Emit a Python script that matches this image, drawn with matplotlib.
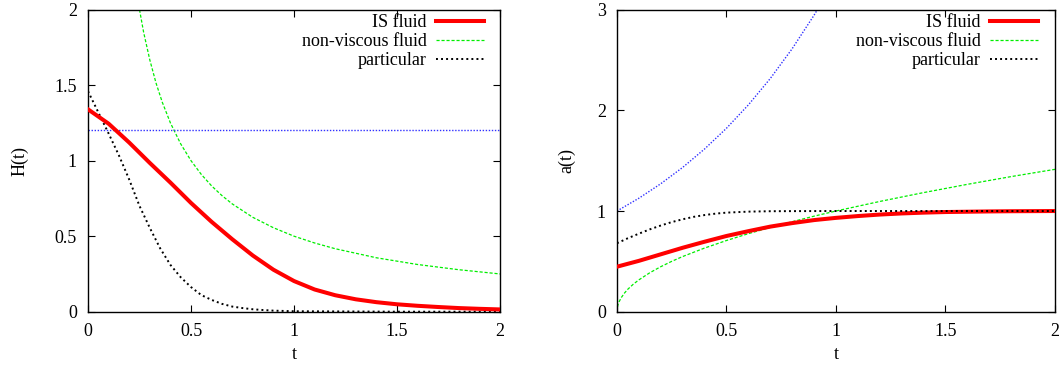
from matplotlib import pyplot as plt
import numpy as np

plt.rcParams['font.family'] = ['Liberation Serif', 'DejaVu Serif']
plt.rcParams['font.size'] = 13

# ---- left panel: H(t) ----
t_is = [0.0, 0.1, 0.2, 0.3, 0.4, 0.5, 0.6, 0.7, 0.8, 0.9, 1.0,
        1.1, 1.2, 1.3, 1.4, 1.5, 1.6, 1.7, 1.8, 1.9, 2.0]
H_is = [1.34, 1.245, 1.12, 0.985, 0.855, 0.72, 0.595, 0.48, 0.372, 0.278, 0.203,
        0.147, 0.109, 0.082, 0.063, 0.049, 0.039, 0.031, 0.024, 0.019, 0.015]

t_nv = [0.25, 0.27, 0.3, 0.33, 0.36, 0.4, 0.45, 0.5, 0.55, 0.6, 0.65, 0.7, 0.8,
        0.9, 1.0, 1.1, 1.2, 1.4, 1.6, 1.8, 2.0]
H_nv = [2.0, 1.85, 1.667, 1.515, 1.389, 1.25, 1.111, 1.0, 0.909, 0.833, 0.769,
        0.714, 0.625, 0.556, 0.5, 0.455, 0.417, 0.357, 0.3125, 0.278, 0.25]

t_p = [0.0, 0.05, 0.1, 0.15, 0.2, 0.25, 0.3, 0.35, 0.4, 0.45, 0.5, 0.55, 0.6,
       0.65, 0.7, 0.75, 0.8, 0.85, 0.9, 0.95, 1.0, 1.5, 2.0]
H_p = [1.46, 1.32, 1.18, 1.035, 0.875, 0.70, 0.555, 0.42, 0.31, 0.228, 0.163,
       0.11, 0.078, 0.052, 0.034, 0.024, 0.016, 0.011, 0.007, 0.005, 0.003, 0.0, 0.0]

t_ds = [0.0, 2.0]
H_ds = [1.2, 1.2]

# ---- right panel: a(t) ----
a_is = [0.447, 0.505, 0.57, 0.635, 0.695, 0.752, 0.80, 0.845, 0.88, 0.91, 0.932,
        0.95, 0.965, 0.976, 0.984, 0.99, 0.993, 0.996, 0.998, 0.999, 1.0]

t_anv = [0.0, 0.002, 0.005, 0.01, 0.02, 0.035, 0.05, 0.075, 0.1, 0.15, 0.2, 0.25,
         0.3, 0.4, 0.5, 0.6, 0.7, 0.8, 0.9, 1.0, 1.2, 1.4, 1.6, 1.8, 2.0]
a_nv = [0.0, 0.045, 0.071, 0.1, 0.141, 0.187, 0.224, 0.274, 0.316, 0.387, 0.447,
        0.5, 0.548, 0.632, 0.707, 0.775, 0.837, 0.894, 0.949, 1.0, 1.095, 1.183,
        1.265, 1.342, 1.414]

t_ap = [0.0, 0.05, 0.1, 0.15, 0.2, 0.25, 0.3, 0.35, 0.4, 0.45, 0.5, 0.6, 0.7,
        0.8, 1.0, 1.5, 2.0]
a_p = [0.68, 0.73, 0.775, 0.818, 0.856, 0.89, 0.918, 0.942, 0.96, 0.974, 0.984,
       0.994, 0.998, 0.999, 1.0, 1.0, 1.0]

t_ads = [0.0, 0.1, 0.2, 0.3, 0.4, 0.5, 0.6, 0.7, 0.8, 0.9, 0.95]
a_ds = [1.0, 1.127, 1.271, 1.433, 1.616, 1.822, 2.054, 2.316, 2.612, 2.945, 3.127]

RED = '#ff0000'
GREEN = '#00ee00'
BLUE = '#3030ff'
BLACK = '#000000'


def style_axes(ax, ylim, yticks, ylabel, ylab_x):
    ax.set_xlim(0, 2)
    ax.set_ylim(*ylim)
    ax.set_xticks([0, 0.5, 1, 1.5, 2])
    ax.set_xticklabels(['0', '0.5', '1', '1.5', '2'])
    ax.set_yticks(yticks)
    ax.set_yticklabels([('%g' % v) for v in yticks])
    ax.tick_params(direction='in', top=True, right=True, length=5, width=0.8,
                   labelsize=13, pad=8)
    for s in ax.spines.values():
        s.set_linewidth(1.0)
    ax.set_xlabel('t')
    ax.xaxis.set_label_coords(0.5, -0.115)
    ax.set_ylabel(ylabel)
    ax.yaxis.set_label_coords(ylab_x, 0.5)


def draw_legend(ax):
    leg = ax.legend(loc='upper right', bbox_to_anchor=(0.962, 0.985),
                    frameon=False, markerfirst=False, handlelength=2.7,
                    handletextpad=0.5, labelspacing=0.1, borderpad=0,
                    borderaxespad=0, fontsize=13)
    return leg


fig = plt.figure(figsize=(10.63, 3.67), dpi=100)
ax1 = fig.add_axes([0.0828, 0.1507, 0.3876, 0.8229])
ax2 = fig.add_axes([0.5804, 0.1507, 0.4120, 0.8229])

# left
ax1.plot(t_is, H_is, color=RED, lw=2.9, label='IS fluid', zorder=4)
ax1.plot(t_nv, H_nv, color=GREEN, lw=0.9, dashes=(2.5, 1.5), label='non-viscous fluid')
ax1.plot(t_p, H_p, color=BLACK, lw=1.4, dashes=(1, 1.6), label='particular')
ax1.plot(t_ds, H_ds, color=BLUE, lw=1.0, dashes=(1, 1.2))
style_axes(ax1, (0, 2), [0, 0.5, 1, 1.5, 2], 'H(t)', -0.145)
draw_legend(ax1)

# right
ax2.plot(t_is, a_is, color=RED, lw=2.9, label='IS fluid', zorder=4)
ax2.plot(t_anv, a_nv, color=GREEN, lw=0.9, dashes=(2.5, 1.5), label='non-viscous fluid')
ax2.plot(t_ap, a_p, color=BLACK, lw=1.4, dashes=(1, 1.6), label='particular', zorder=5)
ax2.plot(t_ads, a_ds, color=BLUE, lw=1.0, dashes=(1, 1.2))
style_axes(ax2, (0, 3), [0, 1, 2, 3], 'a(t)', -0.095)
draw_legend(ax2)

fig.savefig('out.png', dpi=100)
